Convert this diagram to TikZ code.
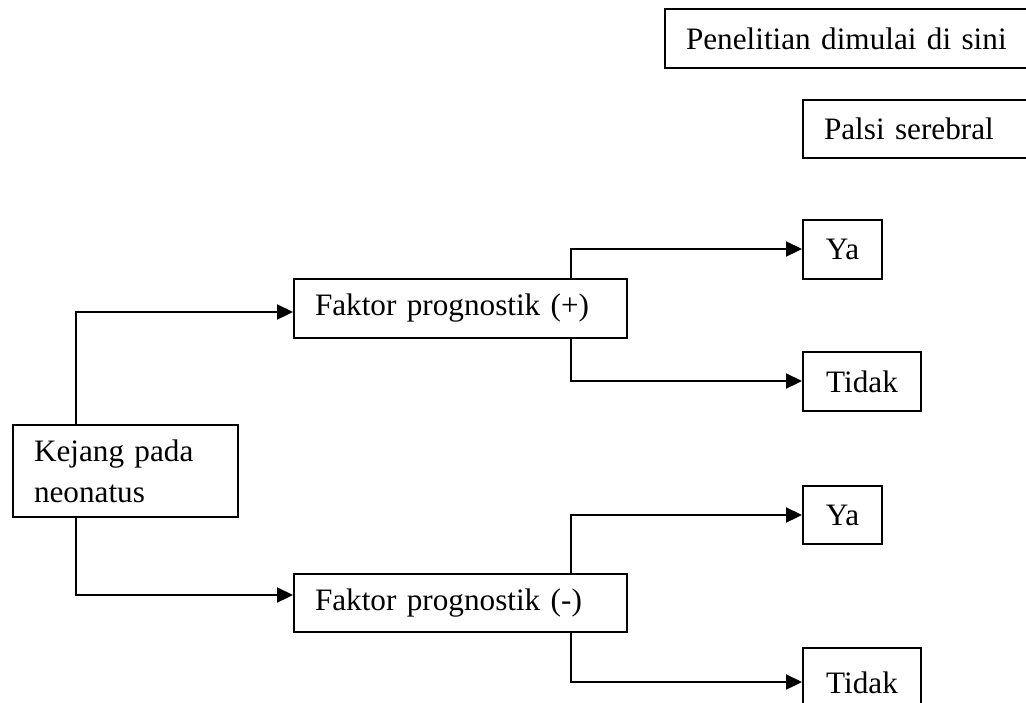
\documentclass[tikz,border=0pt]{standalone}
\usepackage{fontspec}
\setmainfont{Liberation Serif}
\usetikzlibrary{arrows.meta,calc}
\begin{document}
\begin{tikzpicture}[x=0.5pt,y=-0.5pt,
  box/.style={draw,line width=1pt,anchor=north west,inner xsep=10.5pt,inner ysep=0pt,
    font=\fontsize{15.6}{20.5}\selectfont},
  lbox/.style={box,align=left},
  cbox/.style={box,align=center},
  arr/.style={line width=1.1pt,-{Triangle[length=8pt,width=7.5pt]}}]
\useasboundingbox (0,0) rectangle (1026,702);
\clip (0,0) rectangle (1026,702);
\node[lbox,text width=167pt,minimum height=29.5pt] (pen) at (664,8) {Penelitian dimulai di sini};
\node[lbox,text width=98pt,minimum height=29pt] (palsi) at (802,99) {Palsi serebral};
\node[lbox,text width=91.5pt,minimum height=46pt] (kejang) at (12,424) {Kejang pada\\neonatus};
\node[lbox,text width=145.5pt,minimum height=29.5pt] (fp) at (293,278) {Faktor prognostik (+)};
\node[lbox,text width=145.5pt,minimum height=29pt] (fm) at (293,573) {Faktor prognostik (-)};
\node[cbox,minimum width=39.5pt,minimum height=29.5pt] (ya1) at (802,219) {Ya};
\node[cbox,minimum width=59pt,minimum height=29.5pt] (td1) at (802,351) {Tidak};
\node[cbox,minimum width=39.5pt,minimum height=29pt] (ya2) at (802,485) {Ya};
\node[cbox,minimum width=59pt,minimum height=35pt] (td2) at (802,647) {Tidak};
\draw[arr] ($(kejang.north west)+(64,0)$) |- ($(fp.north west)+(0,34)$);
\draw[arr] ($(kejang.south west)+(64,0)$) |- ($(fm.north west)+(0,22)$);
\draw[arr] ($(fp.north west)+(278,0)$) |- ($(ya1.north west)+(0,30)$);
\draw[arr] ($(fp.south west)+(278,0)$) |- ($(td1.north west)+(0,30)$);
\draw[arr] ($(fm.north west)+(278,0)$) |- ($(ya2.north west)+(0,30)$);
\draw[arr] ($(fm.south west)+(278,0)$) |- ($(td2.north west)+(0,35)$);
\end{tikzpicture}
\end{document}
